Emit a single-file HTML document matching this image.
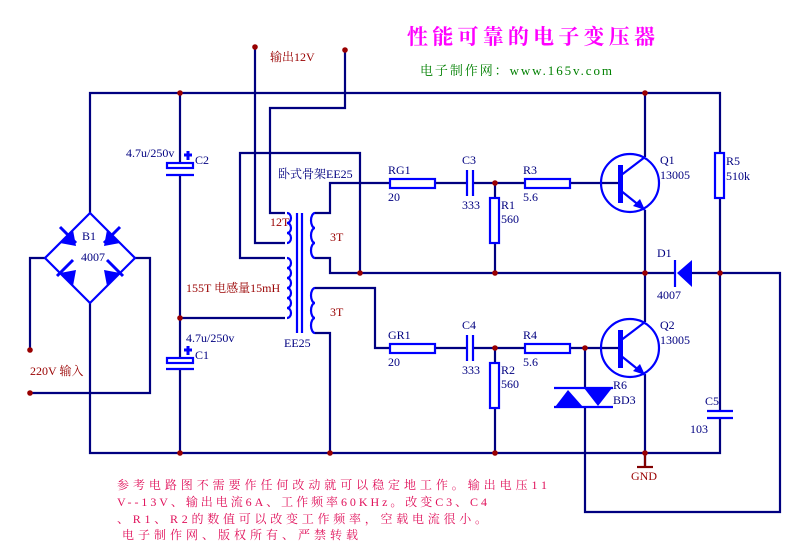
<!DOCTYPE html>
<html><head><meta charset="utf-8"><style>
html,body{margin:0;padding:0;background:#fff;width:799px;height:553px;overflow:hidden}
svg{display:block}
text{font-family:"Liberation Serif","Noto Serif CJK SC","WenQuanYi Zen Hei",serif;font-size:12px}
</style></head><body>
<svg width="799" height="553" viewBox="0 0 799 553" xmlns="http://www.w3.org/2000/svg">
<g fill="none" stroke="#000080" stroke-width="2.2">
<!-- rails -->
<polyline points="90,213 90,93 720,93 720,153"/>
<polyline points="90,303 90,453 720,453 720,419"/>
<!-- AC input -->
<polyline points="45,258 30,258 30,350"/>
<polyline points="135,258 150,258 150,393 30,393"/>
<!-- caps column -->
<line x1="180" y1="93" x2="180" y2="163"/>
<line x1="180" y1="176" x2="180" y2="358"/>
<line x1="180" y1="370" x2="180" y2="453"/>
<line x1="180" y1="318" x2="285" y2="318"/>
<!-- primary loop -->
<polyline points="285,258 240,258 240,153 360,153 360,273"/>
<!-- 12T -->
<polyline points="285,213 270,213 270,108 345,108 345,50"/>
<polyline points="285,243 255,243 255,47"/>
<!-- secondaries -->
<polyline points="315,213 330,213 330,183 390,183"/>
<polyline points="315,258 330,258 330,273 645,273"/>
<polyline points="315,288 375,288 375,348 390,348"/>
<polyline points="315,333 330,333 330,453"/>
<!-- row1 -->
<line x1="435" y1="183" x2="466" y2="183"/><line x1="474" y1="183" x2="525" y2="183"/>
<line x1="570" y1="183" x2="620" y2="183"/>
<line x1="495" y1="183" x2="495" y2="198"/><line x1="495" y1="243" x2="495" y2="273"/>
<!-- row2 -->
<line x1="435" y1="348" x2="466" y2="348"/><line x1="474" y1="348" x2="525" y2="348"/>
<line x1="570" y1="348" x2="620" y2="348"/>
<line x1="495" y1="348" x2="495" y2="363"/><line x1="495" y1="408" x2="495" y2="453"/>
<!-- transistors verticals -->
<line x1="645" y1="93" x2="645" y2="157"/><line x1="645" y1="210" x2="645" y2="322"/>
<line x1="645" y1="374" x2="645" y2="467"/>
<!-- zener wire -->
<line x1="585" y1="348" x2="585" y2="388"/>
<polyline points="585,407 585,512 780,512 780,273 692,273"/>
<line x1="645" y1="273" x2="675" y2="273"/>
<line x1="720" y1="198" x2="720" y2="411"/>
</g>
<!-- GND -->
<g stroke="#800000" stroke-width="2.2"><line x1="645" y1="453" x2="645" y2="467"/><line x1="637" y1="467" x2="653" y2="467"/></g>
<!-- components -->
<g fill="none" stroke="#0000ff" stroke-width="2.2">
<!-- bridge -->
<polygon points="90,213 135,258 90,303 45,258"/>
<!-- caps -->
<rect x="167" y="163" width="26" height="5"/><line x1="166" y1="175" x2="194" y2="175"/>
<rect x="167" y="358" width="26" height="5"/><line x1="166" y1="369" x2="194" y2="369"/>
<!-- coils -->
<path d="M287,213 a4,5 0 0 1 0,10 a4,5 0 0 1 0,10 a4,5 0 0 1 0,10"/>
<path d="M287,258 a4,5 0 0 1 0,10 a4,5 0 0 1 0,10 a4,5 0 0 1 0,10 a4,5 0 0 1 0,10 a4,5 0 0 1 0,10 a4,5 0 0 1 0,10"/>
<path d="M315,213 a4,7.5 0 0 0 0,15 a4,7.5 0 0 0 0,15 a4,7.5 0 0 0 0,15"/>
<path d="M315,288 a4,7.5 0 0 0 0,15 a4,7.5 0 0 0 0,15 a4,7.5 0 0 0 0,15"/>
<line x1="297" y1="213" x2="297" y2="333"/><line x1="302" y1="213" x2="302" y2="333"/>
<!-- resistors -->
<rect x="390" y="179" width="45" height="9"/><rect x="525" y="179" width="45" height="9"/>
<rect x="390" y="344" width="45" height="9"/><rect x="525" y="344" width="45" height="9"/>
<rect x="490" y="198" width="9" height="45"/><rect x="490" y="363" width="9" height="45"/>
<rect x="715" y="153" width="9" height="45"/>
<!-- caps C3 C4 -->
<line x1="467" y1="170" x2="467" y2="196"/><line x1="473" y1="170" x2="473" y2="196"/>
<line x1="467" y1="335" x2="467" y2="361"/><line x1="473" y1="335" x2="473" y2="361"/>
<!-- C5 -->
<line x1="707" y1="411" x2="733" y2="411"/><line x1="707" y1="418" x2="733" y2="418"/>
<!-- transistors -->
<circle cx="630" cy="183" r="29"/><circle cx="630" cy="348" r="29"/>
<line x1="620" y1="176" x2="645" y2="157"/><line x1="620" y1="190" x2="645" y2="210"/>
<line x1="620" y1="341" x2="645" y2="322"/><line x1="620" y1="355" x2="645" y2="375"/>
<!-- zener bars -->
<line x1="554" y1="388" x2="613" y2="388"/><line x1="554" y1="407" x2="613" y2="407"/>
<line x1="675" y1="260" x2="675" y2="287"/>
</g>
<g fill="#0000ff">
<rect x="618" y="165" width="5" height="38"/><rect x="618" y="330" width="5" height="38"/>
<polygon points="645,210 633,206 640,199"/><polygon points="645,375 633,371 640,364"/>
<polygon points="568,390 555,407 583,407"/><polygon points="584,388 612,388 598,406"/>
<polygon points="677,273 692,260 692,287"/>
<!-- bridge diodes -->
<polygon points="60,243 73,230 76,246" /><polygon points="120,243 107,230 104,246"/>
<polygon points="60,273 73,286 76,270"/><polygon points="120,273 107,286 104,270"/>
</g>
<g stroke="#0000ff" stroke-width="3">
<line x1="60" y1="227" x2="76" y2="243"/><line x1="120" y1="227" x2="104" y2="243"/>
<line x1="57" y1="276" x2="73" y2="260"/><line x1="123" y1="276" x2="107" y2="260"/>
<line x1="188" y1="151" x2="188" y2="160"/><line x1="184" y1="155" x2="192" y2="155"/>
<line x1="188" y1="346" x2="188" y2="355"/><line x1="184" y1="350" x2="192" y2="350"/>
</g>
<!-- junctions -->
<g fill="#990000">
<circle cx="180" cy="93" r="2.8"/><circle cx="645" cy="93" r="2.8"/><circle cx="180" cy="318" r="2.8"/>
<circle cx="180" cy="453" r="2.8"/><circle cx="330" cy="453" r="2.8"/><circle cx="495" cy="453" r="2.8"/><circle cx="645" cy="453" r="2.8"/>
<circle cx="360" cy="273" r="2.8"/><circle cx="495" cy="273" r="2.8"/><circle cx="645" cy="273" r="2.8"/><circle cx="720" cy="273" r="2.8"/>
<circle cx="495" cy="183" r="2.8"/><circle cx="495" cy="348" r="2.8"/><circle cx="585" cy="348" r="2.8"/>
<circle cx="30" cy="350" r="2.8"/><circle cx="30" cy="393" r="2.8"/><circle cx="255" cy="47" r="2.8"/><circle cx="345" cy="50" r="2.8"/>
</g>
<!-- labels blue -->
<g fill="#000080">
<text x="82" y="240">B1</text><text x="81" y="261">4007</text>
<text x="126" y="157">4.7u/250v</text><text x="195" y="164">C2</text>
<text x="186" y="342">4.7u/250v</text><text x="195" y="359">C1</text>
<text x="278" y="178">卧式骨架EE25</text><text x="284" y="347">EE25</text>
<text x="388" y="174">RG1</text><text x="388" y="201">20</text>
<text x="462" y="164">C3</text><text x="462" y="209">333</text>
<text x="501" y="209">R1</text><text x="501" y="223">560</text>
<text x="523" y="174">R3</text><text x="523" y="201">5.6</text>
<text x="388" y="339">GR1</text><text x="388" y="366">20</text>
<text x="462" y="329">C4</text><text x="462" y="374">333</text>
<text x="501" y="374">R2</text><text x="501" y="388">560</text>
<text x="523" y="339">R4</text><text x="523" y="366">5.6</text>
<text x="660" y="164">Q1</text><text x="660" y="179">13005</text>
<text x="660" y="329">Q2</text><text x="660" y="344">13005</text>
<text x="726" y="165">R5</text><text x="726" y="180">510k</text>
<text x="657" y="257">D1</text><text x="657" y="299">4007</text>
<text x="613" y="389">R6</text><text x="613" y="404">BD3</text>
<text x="705" y="405">C5</text><text x="690" y="433">103</text>
</g>
<g fill="#990000">
<text x="270" y="226">12T</text><text x="330" y="241">3T</text><text x="330" y="316">3T</text>
<text x="186" y="292">155T 电感量15mH</text><text x="30" y="375">220V 输入</text>
<text x="270" y="61">输出12V</text><text x="631" y="480">GND</text>
</g>
<text x="407" y="44" fill="#ff00ff" style="font-size:21px;font-weight:bold" textLength="248">性能可靠的电子变压器</text>
<text x="420" y="75" fill="#008000" style="font-size:13px" textLength="192">电子制作网：www.165v.com</text>
<g fill="#e0105a" style="font-size:13.5px">
<text x="117" y="489" textLength="430">参考电路图不需要作任何改动就可以稳定地工作。输出电压11</text>
<text x="117" y="506" textLength="370">V--13V、输出电流6A、工作频率60KHz。改变C3、C4</text>
<text x="117" y="523" textLength="370">、R1、R2的数值可以改变工作频率，空载电流很小。</text>
<text x="122" y="539" textLength="236">电子制作网、版权所有、严禁转载</text>
</g>
</svg>
</body></html>
